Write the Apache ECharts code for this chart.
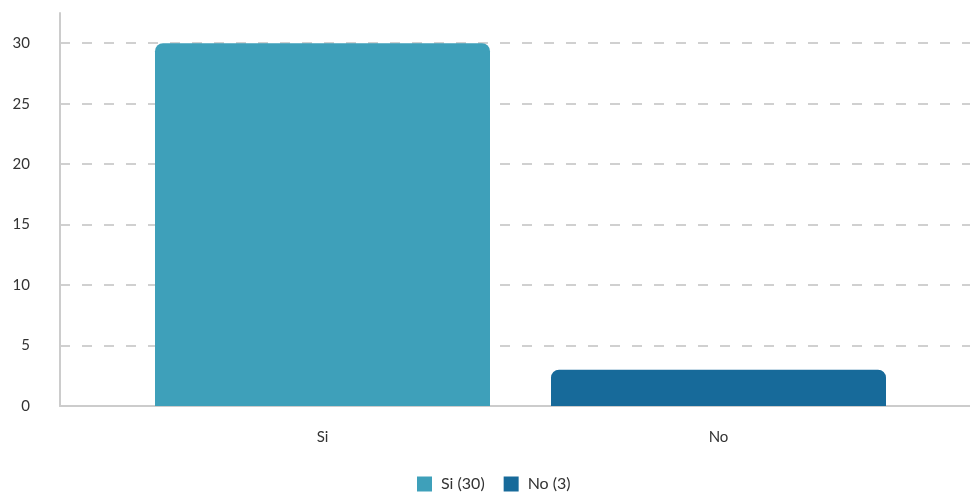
<!DOCTYPE html>
<html><head><meta charset="utf-8">
<script src="https://cdn.jsdelivr.net/npm/echarts@6/dist/echarts.min.js"></script>
<style>html,body{margin:0;padding:0;background:#fff}#c{width:970px;height:496px}</style>
</head><body><div id="c"></div>
<script>
const categories = ['Si', 'No'];
const values = [30, 3];
const legendNames = ['Si (30)', 'No (3)'];
const colors = ['#3ea0ba', '#176a9a'];
const yMin = 0, yMax = 32.5, yStep = 5;

const font = 'Lato, "Noto Sans", sans-serif';
const chart = echarts.init(document.getElementById('c'));
const series = categories.map((c, i) => ({
  name: legendNames[i],
  type: 'bar',
  xAxisIndex: 1, yAxisIndex: 1,
  stack: 'all',
  barWidth: 335,
  data: categories.map((_, j) => j === i ? values[i] : '-'),
  itemStyle: { color: colors[i], borderRadius: [8, 8, 0, 0] }
}));
chart.setOption({
  animation: false,
  textStyle: { fontFamily: font },
  grid: [
    { left: 60, right: 0, top: 13, bottom: 90 },
    { left: 124.5, right: 53.5, top: 13, bottom: 90 }
  ],
  legend: {
    top: 471, left: 412,
    itemWidth: 15, itemHeight: 15, itemGap: 19,
    icon: 'rect',
    textStyle: { fontSize: 16, color: '#333', fontFamily: font, padding: [0, 0, 0, 4] },
    data: legendNames
  },
  xAxis: [
    { type: 'category', gridIndex: 0, data: [''], axisLine: { lineStyle: { color: '#cccccc', width: 2 } }, axisTick: { show: false }, axisLabel: { show: false } },
    { type: 'category', gridIndex: 1, data: categories, axisLine: { show: false }, axisTick: { show: false },
      axisLabel: { fontSize: 15, color: '#333', margin: 24, fontFamily: font } }
  ],
  yAxis: [
    { type: 'value', gridIndex: 0, min: yMin, max: yMax, interval: yStep,
      axisLine: { show: true, lineStyle: { color: '#cccccc', width: 2 } }, axisTick: { show: false },
      axisLabel: { showMaxLabel: false, fontSize: 15, color: '#333', margin: 30, fontFamily: font },
      splitLine: { show: true, showMinLine: false, showMaxLine: false, lineStyle: { color: '#d0d0d0', type: [10, 12], width: 2 } } },
    { type: 'value', gridIndex: 1, min: yMin, max: yMax, interval: yStep, show: false, splitLine: { show: false } }
  ],
  series: series
});
</script></body></html>
